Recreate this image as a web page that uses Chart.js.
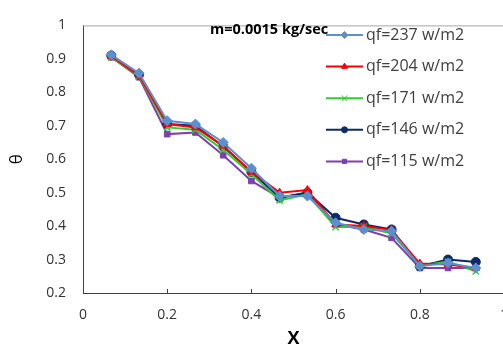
<!DOCTYPE html>
<html>
<head>
<meta charset="utf-8">
<script src="https://cdn.jsdelivr.net/npm/chart.js@4/dist/chart.umd.min.js"></script>
<style>
  html, body { margin: 0; padding: 0; background: #fff; overflow: hidden; width: 503px; height: 352px; }
  #wrap { position: relative; width: 522px; height: 352px; }
</style>
</head>
<body>
<div id="wrap"><canvas id="c" width="522" height="352"></canvas></div>
<script>
const xValues = [0.067, 0.133, 0.2, 0.267, 0.333, 0.4, 0.467, 0.533, 0.6, 0.667, 0.733, 0.8, 0.867, 0.933];
const qf237 = [0.912, 0.857, 0.715, 0.705, 0.650, 0.573, 0.490, 0.490, 0.410, 0.390, 0.385, 0.280, 0.290, 0.275];
const qf204 = [0.908, 0.850, 0.705, 0.695, 0.640, 0.562, 0.500, 0.508, 0.405, 0.400, 0.388, 0.288, 0.285, 0.275];
const qf171 = [0.905, 0.848, 0.695, 0.688, 0.628, 0.555, 0.477, 0.495, 0.397, 0.398, 0.378, 0.282, 0.293, 0.265];
const qf146 = [0.910, 0.853, 0.705, 0.700, 0.638, 0.562, 0.485, 0.500, 0.425, 0.405, 0.390, 0.280, 0.300, 0.293];
const qf115 = [0.905, 0.845, 0.675, 0.680, 0.612, 0.535, 0.485, 0.500, 0.405, 0.390, 0.365, 0.275, 0.275, 0.275];
const seriesLabels = ['qf=237 w/m2', 'qf=204 w/m2', 'qf=171 w/m2', 'qf=146 w/m2', 'qf=115 w/m2'];
const chartTitle = 'm=0.0015 kg/sec';
const xTitle = 'X';
const yTitle = 'θ';

const FONT = "'Open Sans', 'DejaVu Sans', sans-serif";
const styles = [
  { color: '#5B8FD0', point: 'rectRot', radius: 5, legendRadius: 3.5 },
  { color: '#FF0000', point: 'triangle', radius: 4.5, legendRadius: 3.5 },
  { color: '#33CC33', point: 'crossRot', radius: 4.5, legendRadius: 4 },
  { color: '#0B2A66', point: 'circle', radius: 4.5, legendRadius: 3 },
  { color: '#7E3FB0', point: 'rect', radius: 4, legendRadius: 3 }
];
const allSeries = [qf237, qf204, qf171, qf146, qf115];

const datasets = allSeries.map((vals, i) => ({
  label: seriesLabels[i],
  data: vals.map((v, k) => ({ x: xValues[k], y: v })),
  borderColor: styles[i].color,
  backgroundColor: styles[i].color,
  pointStyle: styles[i].point,
  pointRadius: styles[i].radius,
  pointBorderWidth: styles[i].point === 'crossRot' ? 1.5 : 1,
  pointBorderColor: styles[i].color,
  borderWidth: 2,
  tension: 0,
  fill: false
}));

const extrasPlugin = {
  id: 'extras',
  afterDraw(chart) {
    const ctx = chart.ctx;
    const area = chart.chartArea;
    const xs = chart.scales.x;
    ctx.save();
    ctx.strokeStyle = '#A6A6A6';
    ctx.lineWidth = 1;
    ctx.beginPath();
    ctx.moveTo(area.left, area.top + 0.5);
    ctx.lineTo(area.right, area.top + 0.5);
    ctx.stroke();
    ctx.strokeStyle = '#404040';
    xs.ticks.forEach(t => {
      const px = Math.round(xs.getPixelForValue(t.value)) + 0.5;
      ctx.beginPath();
      ctx.moveTo(px, area.bottom);
      ctx.lineTo(px, area.bottom - 4);
      ctx.stroke();
    });
    ctx.fillStyle = '#000';
    ctx.font = "bold 14.5px " + FONT;
    ctx.textBaseline = 'middle';
    ctx.textAlign = 'left';
    ctx.fillText(chartTitle, 210, 30);
    const lx0 = 326, lx1 = 363, ly0 = 35, step = 31.6;
    chart.data.datasets.forEach((ds, i) => {
      const y = ly0 + i * step;
      ctx.strokeStyle = ds.borderColor;
      ctx.lineWidth = 2;
      ctx.beginPath();
      ctx.moveTo(lx0, y);
      ctx.lineTo(lx1, y);
      ctx.stroke();
      ctx.fillStyle = ds.backgroundColor;
      ctx.lineWidth = 1;
      Chart.helpers.drawPoint(ctx, {
        pointStyle: styles[i].point,
        radius: styles[i].legendRadius,
        borderWidth: 1,
        rotation: 0
      }, (lx0 + lx1) / 2, y);
      ctx.fillStyle = '#404040';
      ctx.font = "16px " + FONT;
      ctx.textAlign = 'left';
      ctx.textBaseline = 'middle';
      ctx.fillText(ds.label, 366, y);
    });
    ctx.restore();
  }
};

new Chart(document.getElementById('c'), {
  type: 'line',
  data: { datasets },
  options: {
    responsive: false,
    animation: false,
    layout: { padding: { top: 15, right: 0, bottom: 0, left: 0 } },
    plugins: { legend: { display: false }, tooltip: { enabled: false }, title: { display: false } },
    scales: {
      x: {
        type: 'linear',
        min: 0, max: 1,
        ticks: { stepSize: 0.2, color: '#333', font: { family: FONT, size: 14 }, padding: 14, maxRotation: 0,
                 callback: v => String(Math.round(v * 10) / 10) },
        grid: { display: false, drawTicks: false },
        border: { display: true, color: '#404040', width: 1 },
        title: { display: true, text: xTitle, color: '#000', font: { family: FONT, size: 18, weight: 'bold' }, padding: { top: 2, bottom: 2 } },
        afterFit(scale) { scale.height = 59; }
      },
      y: {
        min: 0.2, max: 1,
        ticks: { stepSize: 0.1, color: '#333', font: { family: FONT, size: 14 }, padding: 17,
                 callback: v => String(Math.round(v * 10) / 10) },
        grid: { display: false, drawTicks: false },
        border: { display: true, color: '#404040', width: 1 },
        title: { display: true, text: yTitle, color: '#000', font: { family: FONT, size: 17 }, padding: { top: 7, bottom: 0 } },
        afterFit(scale) { scale.width = 83; }
      }
    }
  },
  plugins: [extrasPlugin]
});
</script>
</body>
</html>
